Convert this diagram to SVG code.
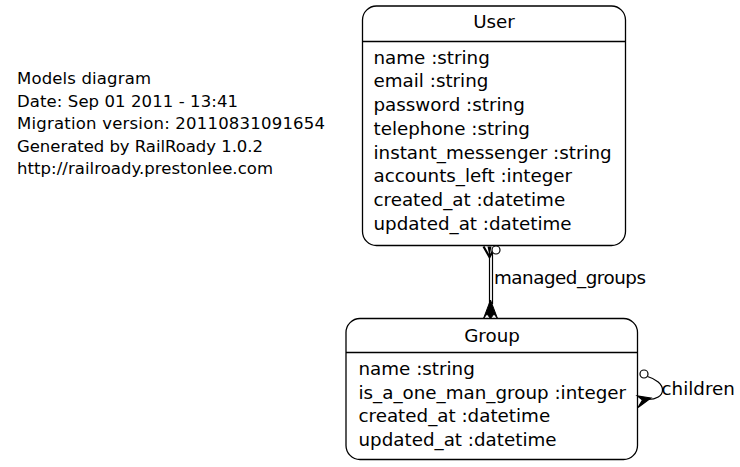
<svg xmlns="http://www.w3.org/2000/svg" width="740" height="467" viewBox="0 0 740 467">
<style>
text{font-family:"DejaVu Sans","Liberation Sans",sans-serif;fill:#000}
.info{font-size:16.5px}
.attr{font-size:18.3px}
.title{font-size:18.3px;text-anchor:middle}
.box{fill:#fff;stroke:#000;stroke-width:1.3}
.sep{stroke:#000;stroke-width:1.3}
.edge{fill:none;stroke:#000;stroke-width:1.2}
</style>
<rect width="740" height="467" fill="#fff"/>
<g id="info">
<text class="info" x="17" y="84" textLength="134" lengthAdjust="spacing">Models diagram</text>
<text class="info" x="17" y="106.6" textLength="221" lengthAdjust="spacing">Date: Sep 01 2011 - 13:41</text>
<text class="info" x="17" y="129.2" textLength="308" lengthAdjust="spacing">Migration version: 20110831091654</text>
<text class="info" x="17" y="151.8" textLength="246" lengthAdjust="spacing">Generated by RailRoady 1.0.2</text>
<text class="info" x="17" y="174.4" textLength="256" lengthAdjust="spacing">http://railroady.prestonlee.com</text>
</g>
<g id="User">
<rect class="box" x="362.5" y="6" width="263" height="239.5" rx="14" ry="14"/>
<line class="sep" x1="362.5" y1="41.5" x2="625.5" y2="41.5"/>
<text class="title" x="494" y="27.5">User</text>
<text class="attr" x="373.5" y="63.5">name :string</text>
<text class="attr" x="373.5" y="87.25">email :string</text>
<text class="attr" x="373.5" y="111">password :string</text>
<text class="attr" x="373.5" y="134.75">telephone :string</text>
<text class="attr" x="373.5" y="158.5">instant_messenger :string</text>
<text class="attr" x="373.5" y="182.25">accounts_left :integer</text>
<text class="attr" x="373.5" y="206">created_at :datetime</text>
<text class="attr" x="373.5" y="229.75">updated_at :datetime</text>
</g>
<g id="Group">
<rect class="box" x="346" y="318.5" width="291.5" height="141" rx="14" ry="14"/>
<line class="sep" x1="346" y1="352.5" x2="637.5" y2="352.5"/>
<text class="title" x="492" y="341.5">Group</text>
<text class="attr" x="358.5" y="374.8">name :string</text>
<text class="attr" x="358.5" y="398.5">is_a_one_man_group :integer</text>
<text class="attr" x="358.5" y="422.2">created_at :datetime</text>
<text class="attr" x="358.5" y="445.9">updated_at :datetime</text>
</g>
<g id="connectors">
<g id="managed_groups">
<line class="edge" x1="489.5" y1="250" x2="489.5" y2="304"/>
<line class="edge" x1="492.5" y1="250" x2="492.5" y2="304"/>
<polyline points="483.5,246.5 489.5,257 495.5,246.5" fill="none" stroke="#000" stroke-width="2.2"/>
<polygon points="487.5,246.5 489.5,256 491.5,246.5" fill="#000"/>
<circle cx="496" cy="250" r="4" fill="#fff" stroke="#000" stroke-width="1.2"/>
<polygon points="490.5,300 483.5,318.5 487,314 490.5,318.5 494,314 497.5,318.5" fill="#000" stroke="#000" stroke-width="1"/>
<text class="attr" x="494" y="284.3" textLength="152" lengthAdjust="spacing">managed_groups</text>
</g>
<g id="children">
<circle cx="644" cy="374" r="4" fill="#fff" stroke="#000" stroke-width="1.2"/>
<path class="edge" d="M647.5,376.5 C656,379 662.5,384 662.5,390 C662.5,396 656,399.5 648,399.5"/>
<polygon points="651,398 637.5,396 642.5,400 638,407.5" fill="#000" stroke="#000" stroke-width="1.2"/>
<text class="attr" x="661.5" y="394.5">children</text>
</g>
</g>
</svg>
